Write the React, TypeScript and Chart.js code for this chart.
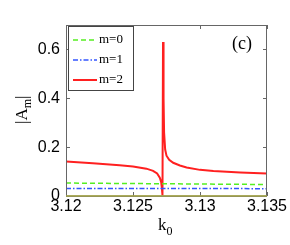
import React, { useEffect, useRef } from "react";
import { Chart, registerables } from "chart.js";

Chart.register(...registerables);

const xTicks = [3.12, 3.125, 3.13, 3.135];
const xTickLabels = ["3.12", "3.125", "3.13", "3.135"];
const yTicks = [0, 0.2, 0.4, 0.6];
const yTickLabels = ["0", "0.2", "0.4", "0.6"];

const legendLabels = ["m=0", "m=1", "m=2"];

const k0M0 = [3.12, 3.1275, 3.135];
const valM0 = [0.053, 0.05, 0.047];

const k0M1 = [3.12, 3.1275, 3.135];
const valM1 = [0.031, 0.031, 0.03];

const k0M2 = [
  3.12, 3.122, 3.124, 3.125, 3.126, 3.1265, 3.1268, 3.127, 3.1271, 3.12715, 3.12719,
  3.1272, 3.12724, 3.12728, 3.12732, 3.1274, 3.1275, 3.1277, 3.128, 3.1285, 3.129,
  3.13, 3.131, 3.132, 3.133, 3.134, 3.135,
];
const valM2 = [
  0.141, 0.134, 0.126, 0.121, 0.112, 0.103, 0.092, 0.075, 0.058, 0.035, 0.01,
  0.0, 0.63, 0.4, 0.26, 0.19, 0.165, 0.148, 0.136, 0.125, 0.117,
  0.107, 0.102, 0.099, 0.096, 0.094, 0.092,
];

const k0Base = [3.12, 3.135];
const valBase = [0, 0];

const toPts = (xs: number[], ys: number[]) => xs.map((x, i) => ({ x, y: ys[i] }));

const GREEN = "#55ee22";
const BLUE = "#3355ff";
const RED = "#ff2020";
const OLIVE = "#a6a650";
const FRAME = "#666666";

const overlay = {
  id: "overlay",
  afterDatasetsDraw(chart: any) {
    const { ctx, chartArea: a, scales } = chart;
    const xs = scales.x;
    const ys = scales.y;
    ctx.save();
    // frame
    ctx.strokeStyle = FRAME;
    ctx.lineWidth = 1;
    ctx.strokeRect(a.left + 0.5, a.top + 0.5, a.right - a.left - 1, a.bottom - a.top);
    // inward ticks
    const tl = 4;
    ctx.beginPath();
    xTicks.forEach((v) => {
      const px = Math.round(xs.getPixelForValue(v)) + 0.5;
      ctx.moveTo(px, a.bottom);
      ctx.lineTo(px, a.bottom - tl);
      ctx.moveTo(px, a.top);
      ctx.lineTo(px, a.top + tl);
    });
    yTicks.forEach((v) => {
      const py = Math.round(ys.getPixelForValue(v)) + 0.5;
      ctx.moveTo(a.left, py);
      ctx.lineTo(a.left + tl, py);
      ctx.moveTo(a.right, py);
      ctx.lineTo(a.right - tl, py);
    });
    ctx.stroke();
    // baseline olive redraw
    ctx.strokeStyle = OLIVE;
    ctx.lineWidth = 1.5;
    ctx.beginPath();
    ctx.moveTo(a.left, a.bottom);
    ctx.lineTo(a.right, a.bottom);
    ctx.stroke();

    // legend
    const lx = a.left + 2;
    const ly = a.top + 1;
    ctx.fillStyle = "#ffffff";
    ctx.fillRect(lx, ly, 65, 64);
    ctx.strokeStyle = "#444444";
    ctx.lineWidth = 1;
    ctx.strokeRect(lx + 0.5, ly + 0.5, 65, 64);
    const styles = [
      { c: GREEN, d: [5, 3], w: 1.5 },
      { c: BLUE, d: [5, 2, 1.5, 2], w: 1.5 },
      { c: RED, d: [], w: 2 },
    ];
    ctx.font = "13px 'Liberation Serif'";
    ctx.textBaseline = "middle";
    ctx.textAlign = "left";
    styles.forEach((s, i) => {
      const y = ly + 14 + i * 20;
      ctx.strokeStyle = s.c;
      ctx.lineWidth = s.w;
      ctx.setLineDash(s.d);
      ctx.beginPath();
      ctx.moveTo(lx + 5, y);
      ctx.lineTo(lx + 29, y);
      ctx.stroke();
      ctx.setLineDash([]);
      ctx.fillStyle = "#000";
      ctx.fillText(legendLabels[i], lx + 31, y);
    });

    // (c)
    ctx.font = "18px 'Liberation Serif'";
    ctx.fillStyle = "#000";
    ctx.textAlign = "left";
    ctx.textBaseline = "alphabetic";
    ctx.fillText("(c)", 232, 49);

    // y title |A_m|
    ctx.save();
    ctx.translate(27, 124);
    ctx.rotate(-Math.PI / 2);
    ctx.font = "17px 'Liberation Serif'";
    ctx.fillText("|A", 0, 0);
    let w = ctx.measureText("|A").width;
    ctx.font = "12px 'Liberation Serif'";
    ctx.fillText("m", w, 4);
    w += ctx.measureText("m").width;
    ctx.font = "17px 'Liberation Serif'";
    ctx.fillText("|", w, 0);
    ctx.restore();

    // x title k_0
    ctx.font = "17px 'Liberation Serif'";
    ctx.fillText("k", 158, 230);
    const kw = ctx.measureText("k").width;
    ctx.font = "12px 'Liberation Serif'";
    ctx.fillText("0", 158 + kw, 235);
    ctx.restore();
  },
};

export default function App() {
  const ref = useRef<HTMLCanvasElement | null>(null);
  useEffect(() => {
    if (!ref.current) return;
    const chart = new Chart(ref.current, {
      type: "line",
      data: {
        datasets: [
          {
            data: toPts(k0Base, valBase),
            borderColor: OLIVE,
            borderWidth: 1.5,
            pointRadius: 0,
          },
          {
            data: toPts(k0M0, valM0),
            borderColor: GREEN,
            borderWidth: 1.5,
            borderDash: [5, 3],
            pointRadius: 0,
          },
          {
            data: toPts(k0M1, valM1),
            borderColor: BLUE,
            borderWidth: 1.5,
            borderDash: [5, 2, 1.5, 2],
            pointRadius: 0,
          },
          {
            data: toPts(k0M2, valM2),
            borderColor: RED,
            borderWidth: 2,
            pointRadius: 0,
          },
        ],
      },
      options: {
        animation: false,
        responsive: false,
        layout: { padding: { left: 0, right: 23, top: 25, bottom: 0 } },
        plugins: { legend: { display: false }, tooltip: { enabled: false } },
        scales: {
          x: {
            type: "linear",
            min: 3.12,
            max: 3.135,
            grid: { display: false, drawTicks: false },
            border: { display: false },
            afterBuildTicks: (s: any) => {
              s.ticks = xTicks.map((v) => ({ value: v }));
            },
            afterFit: (s: any) => {
              s.height = 49;
            },
            ticks: {
              autoSkip: false,
              maxRotation: 0,
              padding: 1,
              color: "#000",
              font: { family: "'Liberation Sans'", size: 16 },
              callback: (v: any) => {
                const i = xTicks.findIndex((t) => Math.abs(t - Number(v)) < 1e-9);
                return i >= 0 ? xTickLabels[i] : "";
              },
            },
          },
          y: {
            min: 0,
            max: 0.7,
            grid: { display: false, drawTicks: false },
            border: { display: false },
            afterBuildTicks: (s: any) => {
              s.ticks = yTicks.map((v) => ({ value: v }));
            },
            afterFit: (s: any) => {
              s.width = 66;
            },
            ticks: {
              padding: 6,
              color: "#000",
              font: { family: "'Liberation Sans'", size: 16 },
              callback: (v: any) => {
                const i = yTicks.findIndex((t) => Math.abs(t - Number(v)) < 1e-9);
                return i >= 0 ? yTickLabels[i] : "";
              },
            },
          },
        },
      },
      plugins: [overlay],
    });
    return () => chart.destroy();
  }, []);
  return (
    <div style={{ position: "absolute", left: 0, top: 0, width: 290, height: 245, background: "#fff" }}>
      <canvas ref={ref} width={290} height={245} style={{ display: "block" }} />
    </div>
  );
}
